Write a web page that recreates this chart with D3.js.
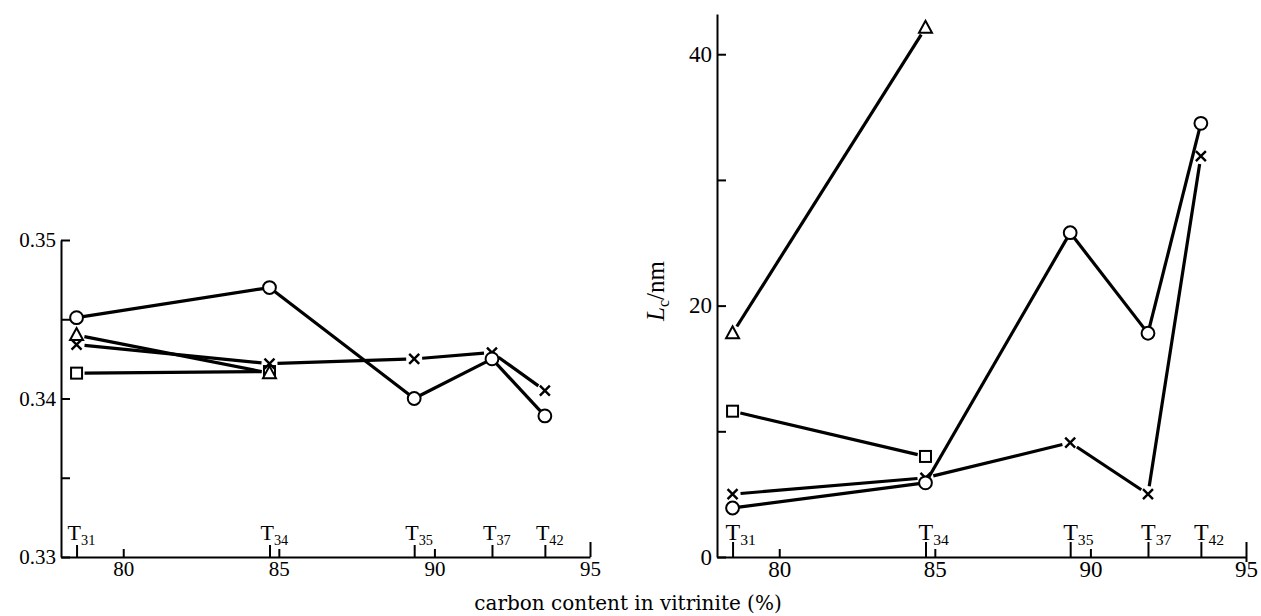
<!DOCTYPE html>
<html>
<head>
<meta charset="utf-8">
<script src="https://cdn.jsdelivr.net/npm/d3@7"></script>
<style>
  body { margin: 0; background: #fff; }
  svg text { font-family: "Liberation Serif", "DejaVu Serif", serif; fill: #000; }
</style>
</head>
<body>
<svg id="chart" width="1261" height="616"></svg>
<script>
// samples (subscript of T) and their carbon content in vitrinite (%)
var samples = ["31", "34", "35", "37", "42"];
var carbon = [78.5, 84.7, 89.35, 91.85, 93.55];

// left panel: interlayer spacing
var dCircle = [0.3451, 0.3470, 0.3400, 0.3425, 0.3389];
var dCross = [0.3434, 0.3422, 0.3425, 0.3429, 0.3405];
var dTriangle = [0.3440, 0.3416];
var dSquare = [0.3416, 0.3417];

// right panel: Lc / nm
var lcCircle = [3.9, 5.9, 25.8, 17.8, 34.5];
var lcCross = [5.0, 6.3, 9.1, 5.0, 31.9];
var lcTriangle = [17.8, 42.1];
var lcSquare = [11.6, 8.0];

var xTicks = [80, 85, 90, 95];
var leftYTicks = [0.33, 0.335, 0.34, 0.345, 0.35];
var rightYTicks = [0, 10, 20, 30, 40];

var svg = d3.select("#chart");

function seriesPoints(vals) {
  return vals.map(function(v, i) { return {x: carbon[i], y: v}; });
}

// draw a polyline whose segments stop short of the markers
function drawSeries(g, x, y, vals, shape) {
  var pts = seriesPoints(vals).map(function(p) { return [x(p.x), y(p.y)]; });
  var gap = shape == "circle" ? 6.5 : 8;
  for (var i = 0; i < pts.length - 1; i++) {
    var a = pts[i], b = pts[i + 1];
    var dx = b[0] - a[0], dy = b[1] - a[1];
    var len = Math.sqrt(dx * dx + dy * dy);
    var ux = dx / len, uy = dy / len;
    g.append("line")
      .attr("x1", a[0] + ux * gap).attr("y1", a[1] + uy * gap)
      .attr("x2", b[0] - ux * gap).attr("y2", b[1] - uy * gap)
      .attr("stroke", "#000").attr("stroke-width", 3.2);
  }
  pts.forEach(function(p) {
    if (shape == "circle") {
      g.append("circle").attr("cx", p[0]).attr("cy", p[1]).attr("r", 6.4)
        .attr("fill", "#fff").attr("stroke", "#000").attr("stroke-width", 2);
    } else if (shape == "square") {
      g.append("rect").attr("x", p[0] - 5.5).attr("y", p[1] - 5.5)
        .attr("width", 11).attr("height", 11)
        .attr("fill", "#fff").attr("stroke", "#000").attr("stroke-width", 2);
    } else if (shape == "triangle") {
      g.append("path")
        .attr("d", "M" + p[0] + "," + (p[1] - 7) + "L" + (p[0] + 6.5) + "," + (p[1] + 5) + "L" + (p[0] - 6.5) + "," + (p[1] + 5) + "Z")
        .attr("fill", "#fff").attr("stroke", "#000").attr("stroke-width", 2);
    } else {
      g.append("path")
        .attr("d", "M" + (p[0] - 5) + "," + (p[1] - 5) + "L" + (p[0] + 5) + "," + (p[1] + 5) +
                   "M" + (p[0] + 5) + "," + (p[1] - 5) + "L" + (p[0] - 5) + "," + (p[1] + 5))
        .attr("fill", "none").attr("stroke", "#000").attr("stroke-width", 2.4);
    }
  });
}

function drawPanel(opt) {
  var g = svg.append("g");
  var x = d3.scaleLinear().domain([78, 95]).range(opt.xRange);
  var y = d3.scaleLinear().domain(opt.yDomain).range(opt.yRange);
  var y0 = opt.yRange[0];

  // x axis
  var xAxis = g.append("g").attr("transform", "translate(0," + y0 + ")")
    .call(d3.axisBottom(x).tickValues(xTicks).tickSizeInner(-8).tickSizeOuter(0).tickPadding(4));
  xAxis.selectAll("text").style("font-size", opt.font + "px");
  xAxis.selectAll(".tick").filter(function(d) { return d == 95; }).select("line")
    .attr("y1", opt.endDown).attr("y2", -15);

  // sample marks on the x axis
  var tAxis = g.append("g").attr("transform", "translate(0," + y0 + ")")
    .call(d3.axisBottom(x).tickValues(carbon).tickSizeInner(-opt.tLen).tickSizeOuter(0).tickFormat(""));
  tAxis.select(".domain").remove();

  // y axis
  var yAxis = g.append("g").attr("transform", "translate(" + opt.xRange[0] + ",0)")
    .call(d3.axisLeft(y).tickValues(opt.yTicks).tickSizeInner(-9).tickSizeOuter(0).tickPadding(5)
      .tickFormat(opt.yFormat));
  yAxis.selectAll("text").style("font-size", opt.font + "px");

  g.selectAll(".domain, .tick line").attr("stroke", "#000").attr("stroke-width", 2);

  // T labels
  var tl = g.selectAll(".tlab").data(samples).enter().append("text")
    .attr("class", "tlab")
    .attr("x", function(d, i) { return x(carbon[i]) - opt.tShift; })
    .attr("y", y0 - 17)
    .style("font-size", (opt.font + 1) + "px");
  tl.append("tspan").text("T");
  tl.append("tspan").attr("dy", 5).style("font-size", (opt.font * 0.68) + "px").text(function(d) { return d; });

  opt.series.forEach(function(s) { drawSeries(g, x, y, s[0], s[1]); });
  return g;
}

drawPanel({
  xRange: [61, 590], yDomain: [0.33, 0.35], yRange: [557, 240],
  yTicks: leftYTicks,
  yFormat: function(d) { return (Math.round(d * 1000) % 10 == 0) ? d3.format(".2f")(d) : ""; },
  font: 21, tLen: 12, tShift: 9, endDown: 0,
  series: [[dSquare, "square"], [dTriangle, "triangle"], [dCross, "cross"], [dCircle, "circle"]]
});

var right = drawPanel({
  xRange: [717, 1246], yDomain: [0, 43.2], yRange: [557, 14],
  yTicks: rightYTicks,
  yFormat: function(d) { return d % 20 == 0 ? d : ""; },
  font: 23, tLen: 15, tShift: 7, endDown: 5,
  series: [[lcSquare, "square"], [lcTriangle, "triangle"], [lcCross, "cross"], [lcCircle, "circle"]]
});

// axis titles
var yl = svg.append("text")
  .attr("transform", "translate(664,291) rotate(-90)")
  .attr("text-anchor", "middle")
  .style("font-size", "25px");
yl.append("tspan").style("font-style", "italic").text("L");
yl.append("tspan").attr("dy", 5).style("font-size", "16px").text("c");
yl.append("tspan").attr("dy", -5).text("/nm");

svg.append("text")
  .attr("x", 628).attr("y", 610)
  .attr("text-anchor", "middle")
  .style("font-family", "'DejaVu Serif', serif")
  .style("font-size", "20px")
  .text("carbon content in vitrinite (%)");
</script>
</body>
</html>
